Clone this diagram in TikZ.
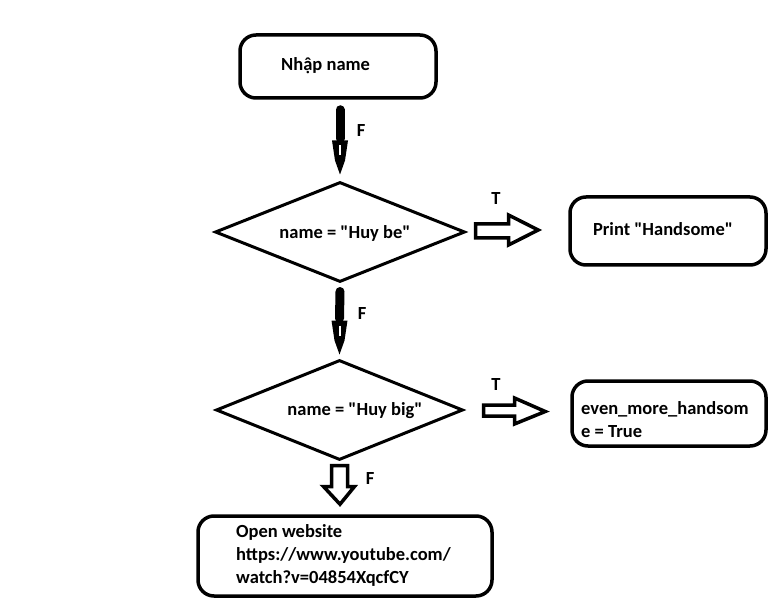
\documentclass[tikz,border=0pt]{standalone}
\usepackage{fontspec}
\setmainfont{Carlito}
\usetikzlibrary{shapes.geometric,calc}
\begin{document}
\begin{tikzpicture}[x=1pt,y=-1pt,
  every node/.style={font=\fontsize{18.5}{23}\selectfont\bfseries},
  box/.style={draw,line width=3.5pt,rounded corners=16pt,inner sep=0pt},
  dia/.style={draw,shape=diamond,line width=3pt,inner sep=0pt},
  lbl/.style={inner sep=0pt},
  hollow/.style={draw,line width=3.5pt,fill=white,line join=miter}]
\useasboundingbox (0,0) rectangle (774,604);
% boxes
\node[box,minimum width=196pt,minimum height=63pt] (b1) at (338,66.5) {};
\node[lbl,anchor=west] (t1) at (281,66) {Nhập name};
\node[dia,minimum width=250pt,minimum height=100pt] (d1) at (340,232) {};
\node[lbl] (t2) at (345,233) {name = \textquotedbl Huy be\textquotedbl};
\node[box,minimum width=196pt,minimum height=68pt] (b2) at (668,231) {};
\node[lbl] (t3) at (663,229) {Print \textquotedbl Handsome\textquotedbl};
\node[dia,minimum width=247pt,minimum height=100pt] (d2) at (339.5,410) {};
\node[lbl] (t4) at (355,411) {name = \textquotedbl Huy big\textquotedbl};
\node[box,minimum width=194pt,minimum height=65pt] (b3) at (669,413.5) {};
\node[lbl,anchor=west,align=left] (t5) at (581,420) {even\_more\_handsom\\e = True};
\node[box,minimum width=294pt,minimum height=80pt] (b4) at (345,556) {};
\node[lbl,anchor=west,align=left] (t6) at (236,555) {Open website\\https://www.youtube.com/\\watch?v=04854XqcfCY};
% labels
\node[lbl] (f1) at (361,131) {F};
\node[lbl] (f2) at (362,314) {F};
\node[lbl] (f3) at (370,479) {F};
\node[lbl] (tt1) at (496,199) {T};
\node[lbl] (tt2) at (496,385) {T};
% arrow b1 -> d1 (pen-nib style)
\draw[line width=9pt,line cap=round] ($(b1.south)+(2,10)$) -- ($(d1.north)+(0,-42)$);
\fill ($(d1.north)+(-8,-40)$) -- ($(d1.north)+(8,-40)$) -- ($(d1.north)+(5,-20)$) -- ($(d1.north)+(0,-6)$) -- ($(d1.north)+(-5,-20)$) -- cycle;
\draw[white,line width=2pt] ($(d1.north)+(0,-35)$) -- ($(d1.north)+(0,-25)$);
% arrow d1 -> d2
\draw[line width=9pt,line cap=round] ($(d1.south)+(0,8)$) -- ($(d2.north)+(0,-40)$);
\fill ($(d2.north)+(-8,-38)$) -- ($(d2.north)+(8,-38)$) -- ($(d2.north)+(5,-18)$) -- ($(d2.north)+(0,-4)$) -- ($(d2.north)+(-5,-18)$) -- cycle;
\draw[white,line width=2pt] ($(d2.north)+(0,-33)$) -- ($(d2.north)+(0,-23)$);
% hollow arrow d1 -> b2
\draw[hollow] ($(d1.east)+(9,-8)$) -- ($(d1.east)+(42,-8)$) -- ($(d1.east)+(42,-17)$) -- ($(b2.west)+(-30,-1)$) -- ($(d1.east)+(42,13)$) -- ($(d1.east)+(42,6)$) -- ($(d1.east)+(9,6)$) -- cycle;
% hollow arrow d2 -> b3
\draw[hollow] ($(d2.east)+(19,-5)$) -- ($(d2.east)+(50,-5)$) -- ($(d2.east)+(50,-12)$) -- ($(b3.west)+(-25,-2)$) -- ($(d2.east)+(50,14)$) -- ($(d2.east)+(50,6)$) -- ($(d2.east)+(19,6)$) -- cycle;
% hollow arrow d2 -> b4
\draw[hollow] ($(d2.south)+(-8,4)$) -- ($(d2.south)+(8,4)$) -- ($(d2.south)+(8,25)$) -- ($(d2.south)+(15,25)$) -- ($(b4.north)+(-5,-10)$) -- ($(d2.south)+(-16,25)$) -- ($(d2.south)+(-8,25)$) -- cycle;
\end{tikzpicture}
\end{document}
